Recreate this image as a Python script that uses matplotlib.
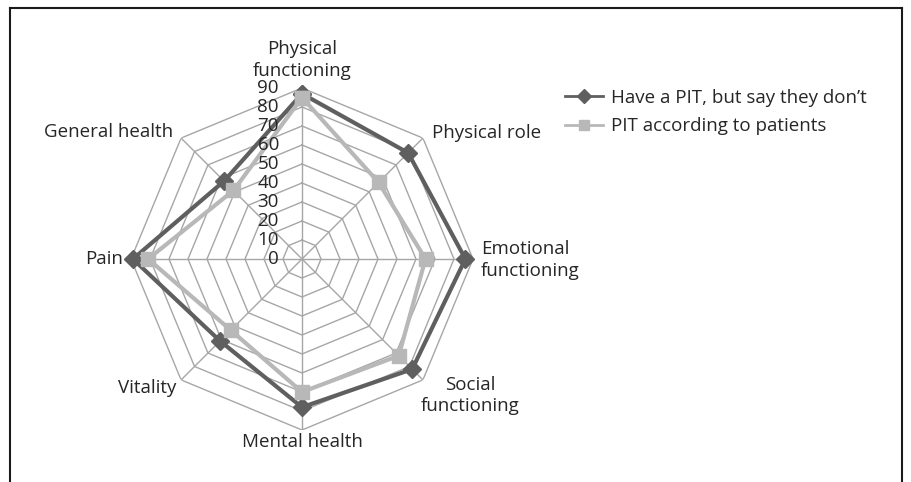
import numpy as np
import matplotlib
matplotlib.use("Agg")
import matplotlib.pyplot as plt
from matplotlib.lines import Line2D

categories = ["Physical\nfunctioning", "Physical role", "Emotional\nfunctioning",
              "Social\nfunctioning", "Mental health", "Vitality", "Pain", "General health"]
series_dark = [87, 79, 86, 82, 78, 61, 89, 58]
series_light = [85, 57, 65, 72, 70, 53, 81, 51]
series_names = ["Have a PIT, but say they don\u2019t", "PIT according to patients"]
r_ticks = [0, 10, 20, 30, 40, 50, 60, 70, 80, 90]

plt.rcParams['font.family'] = ['Open Sans', 'DejaVu Sans']
W, H = 912, 482
fig = plt.figure(figsize=(W / 100, H / 100), dpi=100)

cx, cy, R = 302, 259, 171
ax = fig.add_axes([(cx - R) / W, (H - cy - R) / H, 2 * R / W, 2 * R / H], projection='polar')
ax.set_theta_zero_location('N')
ax.set_theta_direction(-1)
ax.set_ylim(0, r_ticks[-1])
ax.grid(False)
ax.spines['polar'].set_visible(False)
ax.set_xticks([])
ax.set_yticks([])
ax.patch.set_alpha(0)

n = len(categories)
theta = np.arange(n) * 2 * np.pi / n
theta_c = np.append(theta, theta[0])

grid_col = '#a6a6a6'
for r in r_ticks[1:]:
    ax.plot(theta_c, [r] * (n + 1), color=grid_col, lw=1.0, zorder=1)
for t in theta:
    ax.plot([t, t], [0, r_ticks[-1]], color=grid_col, lw=1.0, zorder=1)

dark = '#5f5f5f'
light = '#b8b8b8'
ax.plot(theta_c, series_light + [series_light[0]], color=light, lw=3,
        marker='s', ms=10.5, mec=light, mfc=light, zorder=3, clip_on=False)
ax.plot(theta_c, series_dark + [series_dark[0]], color=dark, lw=3,
        marker='D', ms=9, mec=dark, mfc=dark, zorder=2, clip_on=False)

FS = 13.5
tc = '#262626'
for v in r_ticks:
    ax.annotate(str(v), xy=(0, v), xytext=(-23, 0), textcoords='offset pixels',
                ha='right', va='center', fontsize=FS, color=tc, annotation_clip=False)

label_style = [
    ((0, 8), 'center', 'bottom', 'center'),
    ((9, 5), 'left', 'center', 'left'),
    ((8, -1), 'left', 'center', 'left'),
    ((47, 4), 'center', 'top', 'center'),
    ((0, -3), 'center', 'top', 'center'),
    ((-5, -8), 'right', 'center', 'right'),
    ((-8, 0), 'right', 'center', 'right'),
    ((-8, 6), 'right', 'center', 'right'),
]
for t, lab, (off, ha, va, ma) in zip(theta, categories, label_style):
    ax.annotate(lab, xy=(t, r_ticks[-1]), xytext=off, textcoords='offset pixels',
                ha=ha, va=va, multialignment=ma, fontsize=FS, color=tc,
                linespacing=1.25, annotation_clip=False)

h1 = Line2D([], [], color=dark, lw=2, marker='D', ms=7, mec=dark, mfc=dark)
h2 = Line2D([], [], color=light, lw=2, marker='s', ms=7.5, mec=light, mfc=light)
fig.legend([h1, h2], series_names, loc='upper left',
           bbox_to_anchor=(565 / W, 1 - 89 / H), frameon=False, fontsize=FS,
           handlelength=2.05, handletextpad=0.4, labelspacing=0.55,
           borderpad=0, borderaxespad=0, labelcolor=tc)

fc = '#1a1a1a'
fig.add_artist(Line2D([10 / W, 10 / W], [0, 1 - 8 / H], transform=fig.transFigure, color=fc, lw=1.5))
fig.add_artist(Line2D([10 / W, 902 / W], [1 - 8 / H, 1 - 8 / H], transform=fig.transFigure, color=fc, lw=1.5))
fig.add_artist(Line2D([902 / W, 902 / W], [0, 1 - 8 / H], transform=fig.transFigure, color=fc, lw=1.5))

fig.savefig('out.png', dpi=100)
